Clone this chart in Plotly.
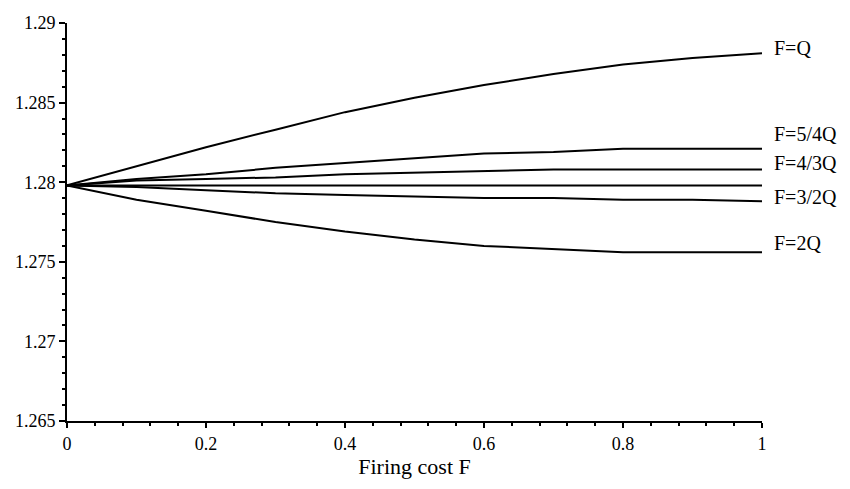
import plotly.graph_objects as go

firing_cost = [0.0, 0.1, 0.2, 0.3, 0.4, 0.5, 0.6, 0.7, 0.8, 0.9, 1.0]

f_q      = [1.2798, 1.2810, 1.2822, 1.2833, 1.2844, 1.2853, 1.2861, 1.2868, 1.2874, 1.2878, 1.2881]
f_5_4q   = [1.2798, 1.2802, 1.2805, 1.2809, 1.2812, 1.2815, 1.2818, 1.2819, 1.2821, 1.2821, 1.2821]
f_4_3q   = [1.2798, 1.2801, 1.2802, 1.2803, 1.2805, 1.2806, 1.2807, 1.2808, 1.2808, 1.2808, 1.2808]
f_flat   = [1.2798, 1.2798, 1.2798, 1.2798, 1.2798, 1.2798, 1.2798, 1.2798, 1.2798, 1.2798, 1.2798]
f_3_2q   = [1.2798, 1.2797, 1.2795, 1.2793, 1.2792, 1.2791, 1.2790, 1.2790, 1.2789, 1.2789, 1.2788]
f_2q     = [1.2798, 1.2789, 1.2782, 1.2775, 1.2769, 1.2764, 1.2760, 1.2758, 1.2756, 1.2756, 1.2756]

series = [("F=Q", f_q), ("F=5/4Q", f_5_4q), ("F=4/3Q", f_4_3q), ("", f_flat),
          ("F=3/2Q", f_3_2q), ("F=2Q", f_2q)]

# label text and the y value where each label sits
label_texts = ["F=Q", "F=5/4Q", "F=4/3Q", "F=3/2Q", "F=2Q"]
label_y = [1.2884, 1.2830, 1.2812, 1.2791, 1.2762]

y_ticks = [1.265, 1.27, 1.275, 1.28, 1.285, 1.29]
y_tick_text = ["1.265", "1.27", "1.275", "1.28", "1.285", "1.29"]
x_ticks = [0, 0.2, 0.4, 0.6, 0.8, 1]
x_tick_text = ["0", "0.2", "0.4", "0.6", "0.8", "1"]

FONT = "Liberation Serif"

fig = go.Figure()
for name, vals in series:
    fig.add_trace(go.Scatter(x=firing_cost, y=vals, mode="lines",
                             line=dict(color="black", width=2),
                             name=name, showlegend=False))

for txt, yv in zip(label_texts, label_y):
    fig.add_annotation(x=1.0, y=yv, xref="x", yref="y", text=txt,
                       showarrow=False, xanchor="left", xshift=10,
                       font=dict(family=FONT, size=20, color="black"))

fig.update_layout(
    width=842, height=481,
    margin=dict(l=59, r=88, t=15, b=68),
    paper_bgcolor="white", plot_bgcolor="white",
    font=dict(family=FONT, size=18, color="black"),
    xaxis=dict(range=[0, 1], tickvals=x_ticks, ticktext=x_tick_text,
               automargin=False,
               showgrid=False, zeroline=False, showline=True,
               linecolor="black", linewidth=2, ticks="outside",
               ticklen=5, tickwidth=2, tickcolor="black",
               minor=dict(dtick=0.04, ticks="outside", ticklen=3,
                          tickwidth=2, tickcolor="black", showgrid=False),
               title=dict(text="Firing cost F", standoff=6,
                          font=dict(family=FONT, size=22))),
    yaxis=dict(range=[1.265, 1.29], tickvals=y_ticks, ticktext=y_tick_text,
               automargin=False,
               showgrid=False, zeroline=False, showline=True,
               linecolor="black", linewidth=2, ticks="outside",
               ticklen=6, tickwidth=2, tickcolor="black",
               minor=dict(dtick=0.001, ticks="outside", ticklen=3,
                          tickwidth=2, tickcolor="black", showgrid=False)),
)

fig.write_html("out.html")
